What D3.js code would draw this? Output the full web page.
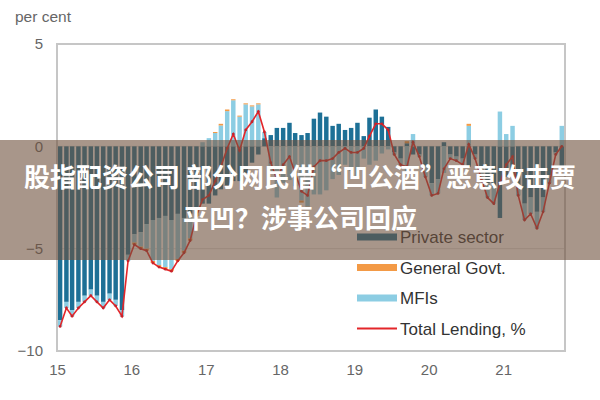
<!DOCTYPE html>
<html>
<head>
<meta charset="utf-8">
<script src="https://cdn.jsdelivr.net/npm/d3@7"></script>
<style>
  body { margin: 0; background: #fff; }
  svg { display: block; font-family: "Liberation Sans", Arial, sans-serif; }
</style>
</head>
<body>
<div id="chart"></div>
<script>
// monthly contributions, Jan 2015 - Oct 2021
const privateSector = [
  -8.5, -7.6, -8.0, -7.6, -7.3, -7.0, -7.3, -7.6, -7.2, -7.5, -8.0, -5.3,
  -4.3, -4.2, -3.8, -3.6, -3.5, -3.4, -3.6, -3.3, -3.5, -3.3, -3.0, -2.8,
  -2.8, -2.4, -2.1, -1.9, -1.7, -1.7, -1.3, -0.8, -0.4, 0.4, 0.55, 0.9,
  0.9, 1.15, 0.65, 0.55, 0.65, 1.35, 1.65, 1.45, 1.0, 1.1, 0.8, 0.9,
  1.15, 0.5, 1.4, 1.8, 1.45, 0.95, -0.3, -0.6, 0.15, -0.4, -0.4, -1.0,
  -1.8, -1.6, 0.2, -0.4, -0.5, -0.6, -1.0, -0.4, -1.1, -1.8, -2.0, -3.5,
  -1.5, -1.5, -2.0, -2.8, -2.5, -3.2, -2.5, -1.4, -0.3, -1.0
]
const generalGovt = [
  0.0, 0.0, 0.0, 0.0, 0.0, 0.0, 0.0, 0.0, 0.0, 0.0, 0.0, 0.0,
  -0.1, -0.1, -0.1, -0.1, -0.1, -0.1, -0.1, -0.1, -0.1, -0.1, -0.1, 0.0,
  0.0, 0.05, 0.08, 0.08, 0.05, 0.05, 0.05, 0.05, 0.05, 0.0, 0.0, 0.0,
  0.0, 0.0, 0.0, -0.1, -0.1, 0.0, 0.0, 0.0, 0.0, 0.0, 0.0, 0.0,
  0.0, 0.0, 0.0, 0.0, 0.0, 0.0, 0.0, 0.0, 0.1, 0.0, 0.0, 0.0,
  0.0, 0.0, 0.0, 0.0, 0.0, 0.0, 0.1, 0.0, 0.0, 0.0, 0.0, 0.0,
  0.0, 0.0, 0.0, 0.0, 0.0, 0.0, 0.0, 0.0, 0.0, 0.0
]
const mfis = [
  -0.3, -0.3, -0.3, -0.3, -0.3, -0.3, -0.3, -0.3, -0.3, -0.3, -0.3, -0.3,
  -0.4, -0.7, -1.2, -2.0, -2.3, -2.5, -2.4, -2.2, -1.6, -1.2, -0.3, 0.2,
  0.4, 0.65, 1.02, 1.72, 2.25, 1.45, 2.05, 1.95, 2.05, 0.3, -1.35, -2.5,
  -1.8, -1.65, -1.95, -2.65, -2.95, -2.35, -2.35, -2.15, -1.6, -1.4, -0.9, -1.2,
  -1.45, -0.6, -0.9, -0.7, -0.35, -0.15, -0.1, -0.3, -1.25, 0.6, -0.1, -0.5,
  -0.6, -0.7, -1.3, -0.2, -0.2, -0.3, 1.0, -0.2, -0.5, -0.7, -0.8, 1.7,
  0.6, 1.0, -0.4, -0.8, -0.8, -0.8, -0.7, -0.4, -0.1, 1.0
]
const totalLending = [
  -8.8, -7.9, -8.3, -7.9, -7.6, -7.3, -7.6, -7.9, -7.5, -7.8, -8.3, -5.6,
  -4.8, -5.0, -5.1, -5.7, -5.9, -6.0, -6.1, -5.6, -5.2, -4.6, -3.4, -2.6,
  -2.4, -1.7, -1.0, -0.1, 0.6, -0.2, 0.8, 1.2, 1.7, 0.7, -0.8, -1.6,
  -0.9, -0.5, -1.3, -2.2, -2.4, -1.0, -0.7, -0.7, -0.6, -0.3, -0.1, -0.3,
  -0.3, -0.1, 0.5, 1.1, 1.1, 0.8, -0.4, -0.9, -1.0, 0.2, -0.5, -1.5,
  -2.4, -2.3, -1.1, -0.6, -0.7, -0.9, 0.1, -0.6, -1.6, -2.5, -2.8, -1.8,
  -0.9, -0.5, -2.4, -3.6, -3.3, -4.0, -3.2, -1.8, -0.4, 0.0
]
const yearLabels = ["15", "16", "17", "18", "19", "20", "21"]
const yTicks = [5, 0, -5, -10]

const months = d3.timeMonth.range(new Date(2015, 0, 1), new Date(2021, 10, 1))
const rows = months.map((d, i) => ({
    date: d,
    private: privateSector[i],
    govt: generalGovt[i],
    mfi: mfis[i],
    total: totalLending[i]
}))

const colors = { private: "#1d7096", govt: "#f39a46", mfi: "#8ccde3" }

const margin = { top: 44, right: 35, bottom: 49, left: 57 },
    width = 600 - margin.left - margin.right,
    height = 400 - margin.top - margin.bottom;

const x = d3.scaleTime()
    .domain([new Date(2015, 0, 1), new Date(2021, 10, 1)])
    .range([0, width])
const y = d3.scaleLinear().domain([-10, 5]).range([height, 0])
const monthW = width / months.length
const barW = monthW * 0.72

const root = d3.select("#chart")
    .append("svg")
    .attr("width", 600)
    .attr("height", 400)

root.append("text")
    .attr("x", 15)
    .attr("y", 22)
    .attr("font-size", 15.5)
    .attr("fill", "#666")
    .text("per cent")

const svg = root.append("g")
    .attr("transform", "translate(" + margin.left + "," + margin.top + ")")

// light gridlines
svg.append("g")
    .selectAll("line")
    .data([0, -5])
    .enter()
    .append("line")
    .attr("x1", 0)
    .attr("x2", width)
    .attr("y1", d => y(d))
    .attr("y2", d => y(d))
    .attr("stroke", "#dedede")
    .attr("stroke-width", 1)

// stacked bars
const series = d3.stack()
    .keys(["private", "mfi", "govt"])
    .offset(d3.stackOffsetDiverging)(rows)

svg.append("g")
    .selectAll("g")
    .data(series)
    .enter()
    .append("g")
    .attr("fill", d => colors[d.key])
    .selectAll("rect")
    .data(d => d)
    .enter()
    .append("rect")
    .attr("x", d => x(d.data.date) + (monthW - barW) / 2)
    .attr("width", barW)
    .attr("y", d => y(Math.max(d[0], d[1])))
    .attr("height", d => Math.abs(y(d[0]) - y(d[1])))

// total lending line
svg.append("path")
    .datum(rows)
    .attr("fill", "none")
    .attr("stroke", "#e3262a")
    .attr("stroke-width", 1.6)
    .attr("d", d3.line()
        .x(d => x(d.date) + monthW / 2)
        .y(d => y(d.total)))

svg.append("g")
    .selectAll("circle")
    .data(rows)
    .enter()
    .append("circle")
    .attr("cx", d => x(d.date) + monthW / 2)
    .attr("cy", d => y(d.total))
    .attr("r", 1.4)
    .attr("fill", "#c9222a")

// frame
svg.append("rect")
    .attr("width", width)
    .attr("height", height)
    .attr("fill", "none")
    .attr("stroke", "#c6c6c6")
    .attr("stroke-width", 2)

// axes
const yAxis = svg.append("g")
    .call(d3.axisLeft(y).tickValues(yTicks).tickSize(0).tickPadding(14))
yAxis.select(".domain").remove()
yAxis.selectAll("text")
    .attr("font-size", 15)
    .attr("fill", "#666")
    .attr("font-family", "Liberation Sans, Arial, sans-serif")

const yearDates = yearLabels.map(l => new Date(2000 + +l, 0, 1))
const xAxis = svg.append("g")
    .attr("transform", "translate(0," + height + ")")
    .call(d3.axisBottom(x).tickValues(yearDates)
        .tickFormat((d, i) => yearLabels[i]).tickSize(0).tickPadding(13))
xAxis.select(".domain").remove()
xAxis.selectAll("text")
    .attr("font-size", 15)
    .attr("fill", "#666")
    .attr("font-family", "Liberation Sans, Arial, sans-serif")

// legend
const legendItems = [
    { label: "Private sector", color: colors.private, type: "bar" },
    { label: "General Govt.", color: colors.govt, type: "bar" },
    { label: "MFIs", color: colors.mfi, type: "bar" },
    { label: "Total Lending, %", color: "#e3262a", type: "line" }
]
const legend = svg.append("g")
    .attr("transform", "translate(300,193)")
const li = legend.selectAll("g")
    .data(legendItems)
    .enter()
    .append("g")
    .attr("transform", (d, i) => "translate(0," + i * 30.5 + ")")
li.append("rect")
    .attr("x", 0)
    .attr("y", d => d.type === "bar" ? -3.5 : -1)
    .attr("width", 40)
    .attr("height", d => d.type === "bar" ? 7 : 2)
    .attr("fill", d => d.color)
li.append("text")
    .attr("x", 43)
    .attr("dy", "0.36em")
    .attr("font-size", 17)
    .attr("fill", "#333")
    .text(d => d.label)

// overlay banner
root.append("rect")
    .attr("x", 0)
    .attr("y", 140)
    .attr("width", 600)
    .attr("height", 120)
    .attr("fill", "rgb(110,80,60)")
    .attr("fill-opacity", 0.6)

const bannerLines = ["股指配资公司 部分网民借“凹公酒”恶意攻击贾", "平凹？涉事公司回应"]
root.append("g")
    .selectAll("text")
    .data(bannerLines)
    .enter()
    .append("text")
    .attr("x", 300)
    .attr("y", (d, i) => 178 + i * 41)
    .attr("dy", "0.36em")
    .attr("text-anchor", "middle")
    .attr("font-family", "Noto Sans CJK SC, sans-serif")
    .attr("font-weight", "bold")
    .attr("font-size", 26)
    .attr("fill", "#fff")
    .text(d => d)
</script>
</body>
</html>
